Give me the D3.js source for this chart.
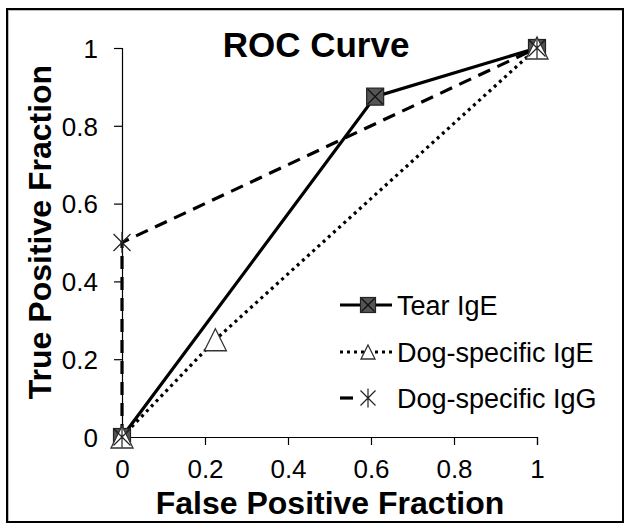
<!DOCTYPE html>
<html>
<head>
<meta charset="utf-8">
<script src="https://cdn.jsdelivr.net/npm/d3@7"></script>
<style>
  body { margin: 0; background: #fff; }
  text { font-family: "Liberation Sans", Arial, sans-serif; fill: #000; }
</style>
</head>
<body>
<script>
// data
const seriesNames = ["Tear IgE", "Dog-specific IgE", "Dog-specific IgG"];
const tearIgE = [[0, 0], [0.61, 0.875], [1, 1]];
const dogIgE = [[0, 0], [0.225, 0.25], [1, 1]];
const dogIgG = [[0, 0], [0, 0.5], [1, 1]];
const xTicks = [0, 0.2, 0.4, 0.6, 0.8, 1];
const yTicks = [0, 0.2, 0.4, 0.6, 0.8, 1];

const width = 629, height = 530;
const margin = { left: 122, right: 92, top: 48, bottom: 93 };

const svg = d3.select('body').append('svg')
  .attr('width', width)
  .attr('height', height);

// frame
svg.append('rect')
  .attr('x', 8.5).attr('y', 10.5)
  .attr('width', 614).attr('height', 511)
  .attr('fill', 'none').attr('stroke', '#bbb').attr('stroke-width', 1);
svg.append('rect')
  .attr('x', 7).attr('y', 9)
  .attr('width', 616).attr('height', 513)
  .attr('fill', 'none').attr('stroke', '#000').attr('stroke-width', 2);

const x = d3.scaleLinear().domain([0, 1]).range([margin.left, width - margin.right]);
const y = d3.scaleLinear().domain([0, 1]).range([height - margin.bottom, margin.top]);

const fmt = d => d === 0 || d === 1 ? String(d) : d.toFixed(1);

// axes
const xAxis = svg.append('g')
  .attr('transform', `translate(0,${y(0)})`)
  .call(d3.axisBottom(x).tickValues(xTicks).tickFormat(fmt).tickSize(8).tickPadding(15));
const yAxis = svg.append('g')
  .attr('transform', `translate(${x(0)},0)`)
  .call(d3.axisLeft(y).tickValues(yTicks).tickFormat(fmt).tickSize(8).tickPadding(16));

[xAxis, yAxis].forEach(a => {
  a.select('.domain').attr('stroke', '#000').attr('stroke-width', 1.2);
  a.selectAll('.tick line').attr('stroke', '#000').attr('stroke-width', 1.2);
  a.selectAll('.tick text').style('font-size', '26px').style('font-family', '"Liberation Sans", Arial, sans-serif');
});
yAxis.selectAll('.tick text').attr('dy', '0.36em');

// titles
svg.append('text')
  .attr('x', 316).attr('y', 57)
  .attr('text-anchor', 'middle')
  .style('font-size', '35px').style('font-weight', 'bold')
  .text('ROC Curve');

svg.append('text')
  .attr('x', 330).attr('y', 514)
  .attr('text-anchor', 'middle')
  .style('font-size', '32px').style('font-weight', 'bold')
  .text('False Positive Fraction');

svg.append('text')
  .attr('transform', 'translate(51,232) rotate(-90)')
  .attr('text-anchor', 'middle')
  .style('font-size', '32px').style('font-weight', 'bold')
  .text('True Positive Fraction');

// line styles
const styles = [
  { data: tearIgE, dash: null, marker: 'square', size: 17, legSize: 15 },
  { data: dogIgE, dash: '3,4', marker: 'triangle', size: 22, legSize: 14 },
  { data: dogIgG, dash: '13,8', marker: 'star', size: 17, legSize: 15 }
];

const line = d3.line().x(d => x(d[0])).y(d => y(d[1]));

styles.forEach(s => {
  svg.append('path')
    .attr('d', line(s.data))
    .attr('fill', 'none')
    .attr('stroke', '#000')
    .attr('stroke-width', 3.2)
    .attr('stroke-dasharray', s.dash);
});

function drawMarker(g, type, cx, cy, size) {
  const h = size / 2;
  if (type === 'square') {
    g.append('rect')
      .attr('x', cx - h).attr('y', cy - h).attr('width', size).attr('height', size)
      .attr('fill', '#555').attr('stroke', '#222').attr('stroke-width', 1.2);
    g.append('path')
      .attr('d', `M${cx - h + 1},${cy - h + 1}L${cx + h - 1},${cy + h - 1}M${cx + h - 1},${cy - h + 1}L${cx - h + 1},${cy + h - 1}`)
      .attr('stroke', '#111').attr('stroke-width', 1.4);
  } else if (type === 'triangle') {
    g.append('path')
      .attr('d', `M${cx},${cy - h}L${cx + h},${cy + h}L${cx - h},${cy + h}Z`)
      .attr('fill', '#fff').attr('stroke', '#333').attr('stroke-width', 1.3);
  } else {
    g.append('path')
      .attr('d', `M${cx - h},${cy - h}L${cx + h},${cy + h}M${cx + h},${cy - h}L${cx - h},${cy + h}M${cx},${cy - h - 2}L${cx},${cy + h + 2}`)
      .attr('stroke', '#222').attr('stroke-width', 1.2).attr('fill', 'none');
  }
}

const markers = svg.append('g');
styles.forEach(s => {
  s.data.forEach(d => drawMarker(markers, s.marker, x(d[0]), y(d[1]), s.size));
});

// legend
const legend = svg.append('g');
const legY = [305, 352, 398];
styles.forEach((s, i) => {
  const ly = legY[i];
  if (s.marker === 'star') {
    legend.append('path')
      .attr('d', `M340,${ly}L353,${ly}`)
      .attr('stroke', '#000').attr('stroke-width', 3.2);
  } else {
    legend.append('path')
      .attr('d', `M340,${ly}L392,${ly}`)
      .attr('stroke', '#000').attr('stroke-width', 3.2)
      .attr('stroke-dasharray', s.dash);
  }
  drawMarker(legend, s.marker, 368, ly, s.legSize);
  legend.append('text')
    .attr('x', 397).attr('y', ly).attr('dy', '0.36em')
    .style('font-size', '27px')
    .text(seriesNames[i]);
});
</script>
</body>
</html>
